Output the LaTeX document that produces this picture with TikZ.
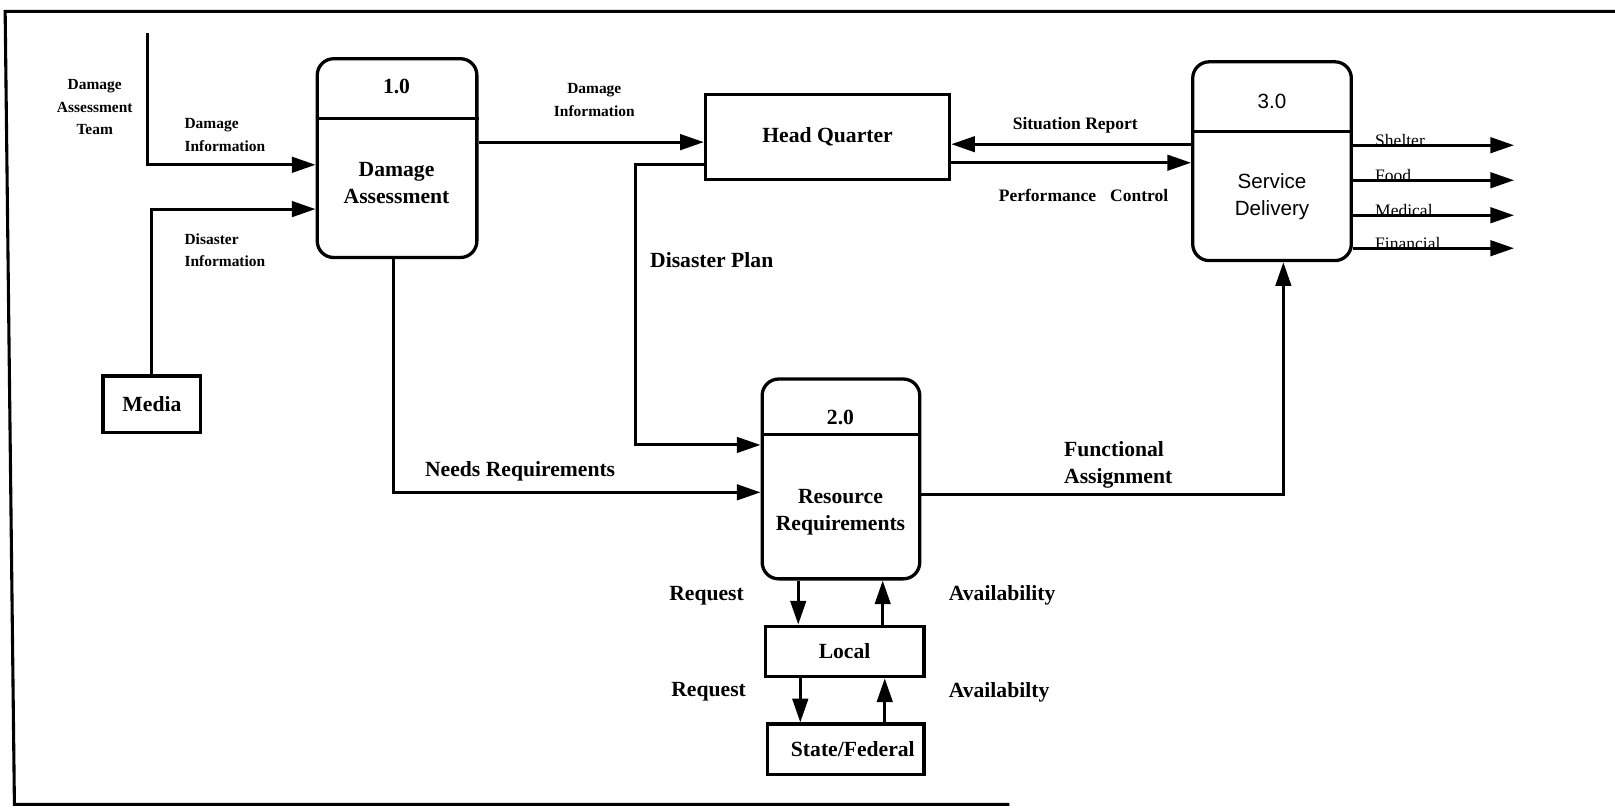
\documentclass[tikz,border=0pt]{standalone}
\usepackage{fontspec}
\setmainfont{Liberation Serif}
\setsansfont{Liberation Sans}
\usetikzlibrary{arrows.meta}
\tikzset{
  lbl/.style={font=\fontsize{21}{26}\selectfont\bfseries, inner sep=0pt, align=center},
  small/.style={font=\fontsize{15}{22}\selectfont\bfseries, inner sep=0pt, align=center},
  mid/.style={font=\fontsize{17}{22}\selectfont\bfseries, inner sep=0pt},
  outl/.style={font=\fontsize{17}{20}\selectfont, inner sep=0pt, anchor=base west},
  proc/.style={draw, line width=3.2pt, rounded corners=16pt},
  ent/.style={draw, line width=3.2pt, font=\fontsize{21}{26}\selectfont\bfseries},
  flow/.style={line width=3pt, -{Triangle[length=23pt,width=15pt]}},
  divline/.style={line width=3pt}
}
\begin{document}
\begin{tikzpicture}[x=1pt,y=-1pt]
\useasboundingbox (0,0) rectangle (1568,784);
% frame
\draw[line width=3pt] (1568,11) -- (5,11) -- (14,781) -- (980,781);

% process boxes
\node[proc, minimum width=155pt, minimum height=193pt] (p1) at (385.5,153.5) {};
\node[proc, minimum width=154pt, minimum height=193pt] (p3) at (1235,156.5) {};
\node[proc, minimum width=153pt, minimum height=194pt] (p2) at (816.5,465) {};
\coordinate (d1) at (0,115);
\coordinate (d3) at (0,128);
\coordinate (d2) at (0,422);
\draw[divline] (p1.west|-d1) -- (p1.east|-d1);
\draw[divline] (p3.west|-d3) -- (p3.east|-d3);
\draw[divline] (p2.west|-d2) -- (p2.east|-d2);

\node[lbl] (n1) at (385,84) {1.0};
\node[lbl] (t1) at (385,178) {Damage\\Assessment};
\node[lbl, font=\sffamily\fontsize{20}{27}\selectfont] (n3) at (1235,98) {3.0};
\node[lbl, font=\sffamily\fontsize{20}{27}\selectfont] (t3) at (1235,191) {Service\\Delivery};
\node[lbl] (n2) at (816,405) {2.0};
\node[lbl] (t2) at (816,497) {Resource\\Requirements};

% entities
\node[ent, minimum width=237pt, minimum height=82pt] (hq) at (803.5,133) {Head Quarter};
\node[ent, minimum width=154pt, minimum height=49pt] (local) at (820,632.5) {Local};
\node[ent, minimum width=152pt, minimum height=49pt] (state) at (821,727.5) {\hspace{14pt}State/Federal};
\node[ent, minimum width=95pt, minimum height=55pt] (media) at (147.5,392.5) {Media};

% helper coordinates
\coordinate (datTop) at (143,32);
\coordinate (yA) at (0,160);
\coordinate (yB) at (0,203);
\coordinate (yC) at (0,138);
\coordinate (yD) at (0,160);
\coordinate (bendHQ) at (617,432);
\coordinate (xN) at (382,0);
\coordinate (yF) at (0,478);
\coordinate (yG) at (0,480);
\coordinate (xF) at (1246,0);
\coordinate (yH) at (0,140);
\coordinate (yI) at (0,158);
\coordinate (xr) at (775,0);
\coordinate (xa) at (857,0);
\coordinate (xr2) at (777,0);
\coordinate (xa2) at (859,0);
\coordinate (o1) at (1470,141);
\coordinate (o2) at (1470,175);
\coordinate (o3) at (1470,209);
\coordinate (o4) at (1470,241);

% connectors
\draw[flow] (datTop) |- (p1.west|-yA);
\draw[flow] (media.north) |- (p1.west|-yB);
\draw[flow] (p1.east|-yC) -- (hq.west|-yC);
\draw[flow] (hq.west|-yD) -| (bendHQ) -- (p2.west|-bendHQ);
\draw[flow] (p1.south-|xN) |- (p2.west|-yF);
\draw[flow] (p2.east|-yG) -| (p3.south-|xF);
\draw[flow] (p3.west|-yH) -- (hq.east|-yH);
\draw[flow] (hq.east|-yI) -- (p3.west|-yI);
\draw[flow] (p3.east|-o1) -- (o1);
\draw[flow] (p3.east|-o2) -- (o2);
\draw[flow] (p3.east|-o3) -- (o3);
\draw[flow] (p3.east|-o4) -- (o4);
\draw[flow] (p2.south-|xr) -- (local.north-|xr);
\draw[flow] (local.north-|xa) -- (p2.south-|xa);
\draw[flow] (local.south-|xr2) -- (state.north-|xr2);
\draw[flow] (state.north-|xa2) -- (local.south-|xa2);

% labels
\node[small] (ldat) at (92,104) {Damage\\Assessment\\Team};
\node[small, anchor=west, align=left] (ldi1) at (179,131) {Damage\\Information};
\node[small, anchor=west, align=left] (ldis) at (179,243) {Disaster\\Information};
\node[small] (ldi2) at (577,97) {Damage\\Information};
\node[lbl] (ldp) at (691,253) {Disaster Plan};
\node[lbl] (lnr) at (505,458) {Needs Requirements};
\node[lbl, anchor=west, align=left] (lfa) at (1033,451) {Functional\\Assignment};
\node[mid] (lsr) at (1044,122) {Situation Report};
\node[mid] (lpc) at (1052,190) {Performance\hspace{0.8em}Control};
\node[outl] (lsh) at (1335,142) {Shelter};
\node[outl] (lfo) at (1335,176) {Food};
\node[outl] (lme) at (1335,210) {Medical};
\node[outl] (lfi) at (1335,242) {Financial};
\node[lbl] (lrq1) at (686,578) {Request};
\node[lbl] (lav1) at (973,578) {Availability};
\node[lbl] (lrq2) at (688,672) {Request};
\node[lbl] (lav2) at (970,672) {Availabilty};
\end{tikzpicture}
\end{document}
